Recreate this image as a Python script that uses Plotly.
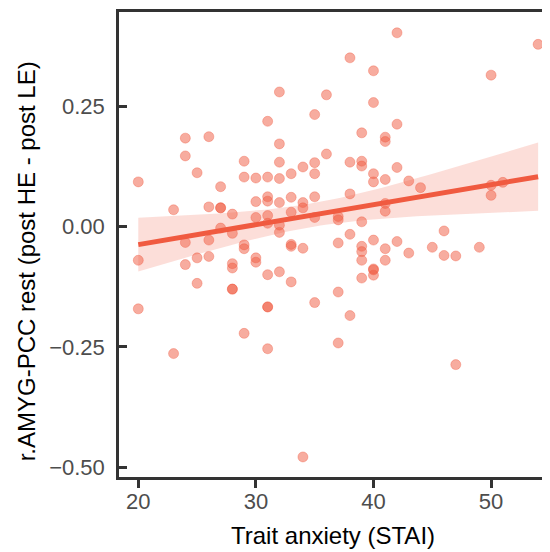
import numpy as np
import plotly.graph_objects as go

# Trait anxiety (STAI) score for each participant
stai = [
    20, 20, 20,
    23, 23,
    24, 24, 24, 24,
    25, 25, 25,
    26, 26, 26, 26,
    27, 27, 27, 27,
    28, 28, 28, 28, 28, 28,
    29, 29, 29, 29, 29,
    30, 30, 30, 30, 30,
    31, 31, 31, 31, 31, 31, 31, 31, 31, 31,
    32, 32, 32, 32, 32, 32, 32, 32,
    33, 33, 33, 33, 33, 33,
    34, 34, 34, 34, 34,
    35, 35, 35, 35, 35, 35,
    36, 36,
    37, 37, 37, 37, 37,
    38, 38, 38, 38, 38,
    39, 39, 39, 39, 39, 39, 39, 39,
    40, 40, 40, 40, 40, 40, 40, 40,
    41, 41, 41, 41, 41, 41, 41,
    42, 42, 42, 42,
    43, 43,
    44,
    45,
    46, 46,
    47, 47,
    49,
    50, 50, 50,
    51,
    54,
]

# r.AMYG-PCC rest (post HE - post LE)
amyg_pcc = [
    0.093, -0.070, -0.171,
    0.035, -0.264,
    0.184, 0.147, -0.033, -0.079,
    0.112, -0.065, -0.118,
    0.187, 0.041, -0.028, -0.062,
    0.083, 0.039, 0.039, -0.003,
    0.026, -0.014, -0.077, -0.086, -0.130, -0.130,
    0.136, 0.103, -0.038, -0.046, -0.222,
    0.101, 0.052, 0.019, -0.065, -0.074,
    0.219, 0.103, 0.062, 0.053, 0.023, 0.007, -0.100, -0.167, -0.167, -0.254,
    0.280, 0.172, 0.134, 0.100, 0.050, 0.003, -0.012, -0.094,
    0.110, 0.061, 0.030, -0.037, -0.041, -0.115,
    0.124, 0.050, 0.039, -0.045, -0.479,
    0.233, 0.133, 0.110, 0.062, 0.019, -0.158,
    0.274, 0.151,
    0.021, 0.014, -0.034, -0.136, -0.242,
    0.351, 0.134, 0.068, -0.016, -0.185,
    0.195, 0.136, 0.126, 0.010, -0.041, -0.052, -0.070, -0.107,
    0.324, 0.258, 0.110, 0.093, -0.028, -0.088, -0.090, -0.101,
    0.186, 0.177, 0.098, 0.048, 0.032, -0.046, -0.070,
    0.403, 0.213, 0.123, -0.031,
    0.095, -0.055,
    0.081,
    -0.043,
    -0.009, -0.060,
    -0.061, -0.287,
    -0.043,
    0.315, 0.086, 0.065,
    0.092,
    0.379,
]

x_ticks = [20, 30, 40, 50]
y_ticks = [-0.50, -0.25, 0.00, 0.25]

x_title = "Trait anxiety (STAI)"
y_title = "r.AMYG-PCC rest (post HE - post LE)"

# Linear fit with 95% confidence band (as in ggplot geom_smooth(method="lm"))
x = np.array(stai, dtype=float)
y = np.array(amyg_pcc, dtype=float)
n = len(x)
slope, intercept = np.polyfit(x, y, 1)
resid = y - (slope * x + intercept)
s = np.sqrt(np.sum(resid ** 2) / (n - 2))
xm = x.mean()
sxx = np.sum((x - xm) ** 2)
t_crit = 1.9796
xf = np.linspace(x.min(), x.max(), 80)
yf = slope * xf + intercept
se = s * np.sqrt(1.0 / n + (xf - xm) ** 2 / sxx)
lo = yf - t_crit * se
hi = yf + t_crit * se

base = "240,90,64"

fig = go.Figure()
fig.add_trace(go.Scatter(
    x=np.concatenate([xf, xf[::-1]]),
    y=np.concatenate([hi, lo[::-1]]),
    fill="toself", fillcolor=f"rgba({base},0.2)",
    line=dict(width=0), mode="lines", hoverinfo="skip", showlegend=False,
))
fig.add_trace(go.Scatter(
    x=stai, y=amyg_pcc, mode="markers",
    marker=dict(size=10, color=f"rgba({base},0.5)",
                line=dict(width=1, color=f"rgba({base},0.35)")),
    showlegend=False,
))
fig.add_trace(go.Scatter(
    x=xf, y=yf, mode="lines",
    line=dict(color=f"rgb({base})", width=5), showlegend=False,
))

axis_col = "#333333"
fig.update_layout(
    width=550, height=552,
    margin=dict(l=111, r=8, t=1, b=83),
    paper_bgcolor="white", plot_bgcolor="white",
    font=dict(family="Liberation Sans, Arial, sans-serif", color="#4D4D4D"),
    xaxis=dict(
        range=[18.36, 55.01], tickvals=x_ticks, ticks="outside", ticklen=8,
        tickwidth=2.5, tickcolor=axis_col, showline=True, linewidth=2.5,
        linecolor=axis_col, mirror=True, showgrid=False, zeroline=False,
        ticklabelstandoff=-5,
        tickfont=dict(size=22, color="#4D4D4D"),
    ),
    yaxis=dict(
        range=[-0.5207, 0.4463], tickvals=y_ticks, tickformat=".2f",
        ticks="inside", ticklen=8, tickwidth=2.5, tickcolor=axis_col,
        showline=True, linewidth=2.5, linecolor=axis_col, mirror=False,
        showgrid=False, zeroline=False, ticklabelstandoff=7,
        tickfont=dict(size=22, color="#4D4D4D"),
    ),
    annotations=[
        dict(text=x_title, xref="paper", yref="paper", x=0.4965, y=0,
             xanchor="center", yanchor="middle", yshift=-58, showarrow=False,
             font=dict(size=24, color="black")),
        dict(text=y_title, xref="paper", yref="paper", x=-0.2158, y=0.4637,
             xanchor="center", yanchor="middle", textangle=-90, showarrow=False,
             font=dict(size=24, color="black")),
    ],
)

fig.write_html("out.html")
